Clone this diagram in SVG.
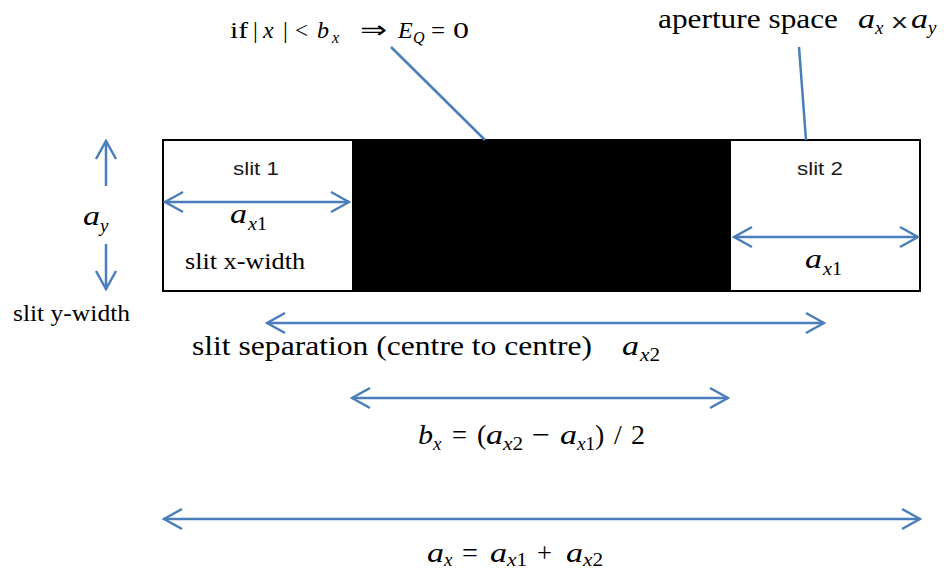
<svg xmlns="http://www.w3.org/2000/svg" width="944" height="571" viewBox="0 0 944 571">
<style>
text{font-family:"Liberation Serif","Times New Roman",serif;fill:#000}
.sans{font-family:"Liberation Sans",Arial,sans-serif;fill:#1a1a1a}
.it{font-style:italic}
.m{font-size:28px;font-style:italic}
.s{font-size:19px}
.ln{stroke:#4A7EBB;stroke-width:2.5;fill:none}
.arr{stroke:#4A7EBB;stroke-width:2.5;fill:none;marker-start:url(#ah);marker-end:url(#ah)}
.arr1{stroke:#4A7EBB;stroke-width:2.5;fill:none;marker-end:url(#ah)}
</style>
<defs>
<marker id="ah" viewBox="-22 -12 24 24" refX="0" refY="0" markerWidth="24" markerHeight="24" markerUnits="userSpaceOnUse" orient="auto-start-reverse">
<path d="M-18,-10 L0,0 L-18,10" fill="none" stroke="#4A7EBB" stroke-width="2.5"/>
</marker>
</defs>
<rect width="944" height="571" fill="#fff"/>

<g id="aperture">
<rect x="163" y="140" width="757" height="151" fill="#fff" stroke="#000" stroke-width="2"/>
</g>
<g id="barrier">
<rect x="352" y="140" width="379" height="151" fill="#000"/>
</g>
<g id="slit1">
<text class="sans" font-size="18" x="233" y="175" textLength="46" lengthAdjust="spacingAndGlyphs">slit 1</text>
<text class="m" x="230" y="223" textLength="17" lengthAdjust="spacingAndGlyphs">a</text>
<text class="s" x="248" y="230" textLength="19" lengthAdjust="spacingAndGlyphs"><tspan class="it">x</tspan>1</text>
<text font-size="23" x="185" y="269" textLength="120" lengthAdjust="spacingAndGlyphs">slit x-width</text>
</g>
<g id="slit2">
<text class="sans" font-size="18" x="797" y="175" textLength="46" lengthAdjust="spacingAndGlyphs">slit 2</text>
<text class="m" x="805" y="268" textLength="17" lengthAdjust="spacingAndGlyphs">a</text>
<text class="s" x="823" y="275" textLength="19" lengthAdjust="spacingAndGlyphs"><tspan class="it">x</tspan>1</text>
</g>
<g id="label-ay">
<text class="m" x="83" y="225" textLength="17" lengthAdjust="spacingAndGlyphs">a</text>
<text class="s it" x="100" y="232">y</text>
<text font-size="23" x="13" y="321" textLength="117" lengthAdjust="spacingAndGlyphs">slit y-width</text>
</g>
<g id="label-top" font-size="24">
<text x="230" y="38" textLength="18" lengthAdjust="spacingAndGlyphs">if</text>
<text x="253" y="38">|</text>
<text class="it" x="263" y="38">x</text>
<text x="283" y="38">|</text>
<text x="295" y="38" textLength="13" lengthAdjust="spacingAndGlyphs">&lt;</text>
<text class="it" x="317" y="38">b</text>
<text class="it" font-size="16" x="332" y="43">x</text>
<text x="360" y="38" textLength="27" lengthAdjust="spacingAndGlyphs">⇒</text>
<text class="it" x="398" y="38">E</text>
<text class="it" font-size="16" x="413" y="43">Q</text>
<text x="431" y="38" textLength="14" lengthAdjust="spacingAndGlyphs">=</text>
<text x="453" y="38" textLength="16" lengthAdjust="spacingAndGlyphs">0</text>
</g>
<g id="label-aperture">
<text font-size="28" x="658" y="28" textLength="180" lengthAdjust="spacingAndGlyphs">aperture space</text>
<text class="m" x="858" y="28" textLength="17" lengthAdjust="spacingAndGlyphs">a</text>
<text class="s it" x="875" y="34">x</text>
<text class="sans" font-size="20" x="892" y="28" textLength="15" lengthAdjust="spacingAndGlyphs">x</text>
<text class="m" x="911" y="28" textLength="17" lengthAdjust="spacingAndGlyphs">a</text>
<text class="s it" x="928" y="34">y</text>
</g>
<g id="label-separation">
<text font-size="28" x="192" y="355" textLength="400" lengthAdjust="spacingAndGlyphs">slit separation (centre to centre)</text>
<text class="m" x="622" y="355" textLength="17" lengthAdjust="spacingAndGlyphs">a</text>
<text class="s" x="640" y="361" textLength="20" lengthAdjust="spacingAndGlyphs"><tspan class="it">x</tspan>2</text>
</g>
<g id="label-bx" font-size="28">
<text class="m" x="418" y="444" textLength="15" lengthAdjust="spacingAndGlyphs">b</text>
<text class="s it" x="433" y="450">x</text>
<text x="452" y="444" textLength="15" lengthAdjust="spacingAndGlyphs">=</text>
<text x="477" y="444">(</text>
<text class="m" x="486" y="444" textLength="17" lengthAdjust="spacingAndGlyphs">a</text>
<text class="s" x="503" y="450" textLength="20" lengthAdjust="spacingAndGlyphs"><tspan class="it">x</tspan>2</text>
<text x="532" y="444" textLength="18" lengthAdjust="spacingAndGlyphs">−</text>
<text class="m" x="560" y="444" textLength="17" lengthAdjust="spacingAndGlyphs">a</text>
<text class="s" x="577" y="450" textLength="18" lengthAdjust="spacingAndGlyphs"><tspan class="it">x</tspan>1</text>
<text x="595" y="444">)</text>
<text x="614" y="444">/</text>
<text x="631" y="444" textLength="14" lengthAdjust="spacingAndGlyphs">2</text>
</g>
<g id="label-ax" font-size="28">
<text class="m" x="427" y="562" textLength="17" lengthAdjust="spacingAndGlyphs">a</text>
<text class="s it" x="444" y="566">x</text>
<text x="462" y="562" textLength="16" lengthAdjust="spacingAndGlyphs">=</text>
<text class="m" x="490" y="562" textLength="17" lengthAdjust="spacingAndGlyphs">a</text>
<text class="s" x="507" y="566" textLength="20" lengthAdjust="spacingAndGlyphs"><tspan class="it">x</tspan>1</text>
<text x="537" y="562" textLength="15" lengthAdjust="spacingAndGlyphs">+</text>
<text class="m" x="566" y="562" textLength="17" lengthAdjust="spacingAndGlyphs">a</text>
<text class="s" x="583" y="566" textLength="20" lengthAdjust="spacingAndGlyphs"><tspan class="it">x</tspan>2</text>
</g>

<g id="connectors">
<line class="ln" x1="391" y1="47" x2="485" y2="140"/>
<line class="ln" x1="799" y1="47" x2="806" y2="140"/>
<line class="arr1" x1="106" y1="186" x2="106" y2="141"/>
<line class="arr1" x1="106" y1="244" x2="106" y2="289"/>
<line class="arr" x1="165" y1="202" x2="349" y2="202"/>
<line class="arr" x1="734" y1="237" x2="918" y2="237"/>
<line class="arr" x1="267" y1="323" x2="824" y2="323"/>
<line class="arr" x1="352" y1="398" x2="728" y2="398"/>
<line class="arr" x1="164" y1="519" x2="920" y2="519"/>
</g>
</svg>
